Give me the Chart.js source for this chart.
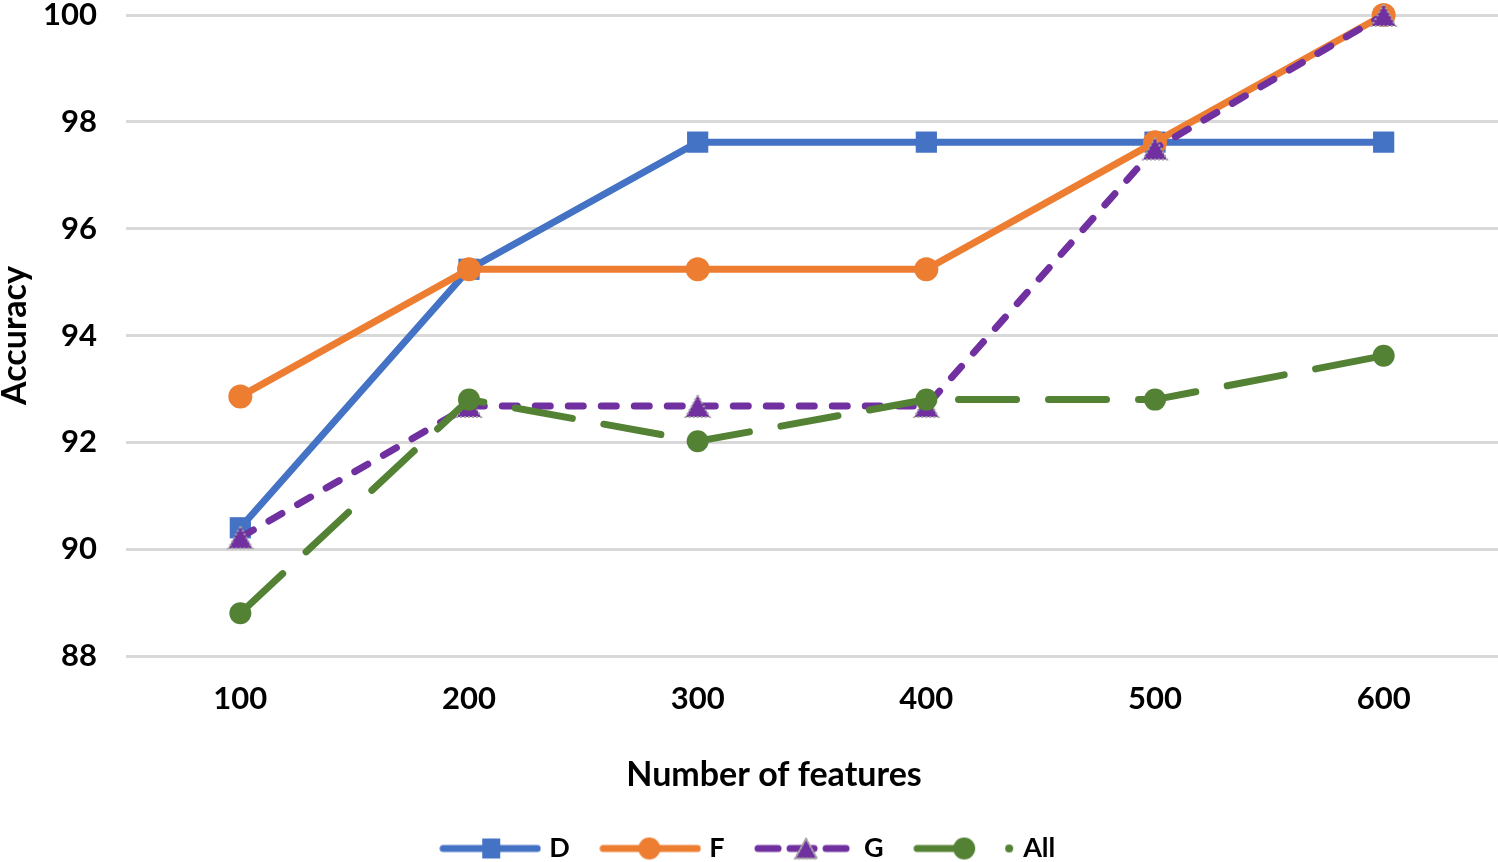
<!DOCTYPE html>
<html>
<head>
<meta charset="utf-8">
<script src="https://cdn.jsdelivr.net/npm/chart.js@4.4.1/dist/chart.umd.min.js"></script>
<style>
  html, body { margin: 0; padding: 0; background: #fff; overflow: hidden; }
  #wrap { width: 1498px; height: 872px; position: relative; }
</style>
</head>
<body>
<div id="wrap"><canvas id="c"></canvas></div>
<script>
const categories = ['100', '200', '300', '400', '500', '600'];
const seriesD = [90.4, 95.24, 97.62, 97.62, 97.62, 97.62];
const seriesF = [92.86, 95.24, 95.24, 95.24, 97.62, 100];
const seriesG = [90.22, 92.68, 92.68, 92.68, 97.5, 100];
const seriesAll = [88.8, 92.8, 92.02, 92.8, 92.8, 93.62];
const seriesNames = ['D', 'F', 'G', 'All'];
const yTicks = [88, 90, 92, 94, 96, 98, 100];

const BLUE = '#4472C4', ORANGE = '#ED7D31', PURPLE = '#7030A0', GREEN = '#548235';

function mk(w, h) { const c = document.createElement('canvas'); c.width = w; c.height = h; return c; }

function drawTri(ctx, cx, cy, w, h) {
  ctx.save();
  ctx.beginPath();
  ctx.moveTo(cx, cy - h / 2);
  ctx.lineTo(cx + w / 2, cy + h / 2);
  ctx.lineTo(cx - w / 2, cy + h / 2);
  ctx.closePath();
  ctx.fillStyle = PURPLE;
  ctx.fill();
  ctx.setLineDash([2, 2]);
  ctx.lineWidth = 2;
  ctx.strokeStyle = '#a6a6a6';
  ctx.stroke();
  ctx.restore();
}

const triImg = (() => { const c = mk(30, 28); drawTri(c.getContext('2d'), 15, 14, 24, 22); return c; })();

function legendSym(kind) {
  const c = mk(102, 30); const ctx = c.getContext('2d');
  ctx.lineCap = 'round'; ctx.lineWidth = 7;
  const y = 15;
  if (kind === 'D') {
    ctx.strokeStyle = BLUE; ctx.beginPath(); ctx.moveTo(4, y); ctx.lineTo(98, y); ctx.stroke();
    ctx.fillStyle = BLUE; ctx.fillRect(52 - 9, y - 10, 18, 20);
  } else if (kind === 'F') {
    ctx.strokeStyle = ORANGE; ctx.beginPath(); ctx.moveTo(4, y); ctx.lineTo(98, y); ctx.stroke();
    ctx.fillStyle = ORANGE; ctx.beginPath(); ctx.arc(50, y, 11, 0, Math.PI * 2); ctx.fill();
  } else if (kind === 'G') {
    ctx.strokeStyle = PURPLE;
    [[4, 24], [36, 60], [72, 92]].forEach(([a, b]) => { ctx.beginPath(); ctx.moveTo(a, y); ctx.lineTo(b, y); ctx.stroke(); });
    drawTri(ctx, 52, y, 22, 20);
  } else {
    ctx.strokeStyle = GREEN; ctx.beginPath(); ctx.moveTo(4, y); ctx.lineTo(58, y); ctx.stroke();
    ctx.fillStyle = GREEN; ctx.beginPath(); ctx.arc(51, y, 11, 0, Math.PI * 2); ctx.fill();
    ctx.beginPath(); ctx.arc(96, y, 4, 0, Math.PI * 2); ctx.fill();
  }
  return c;
}
const legendImgs = seriesNames.map(legendSym);

const layoutTweaks = {
  id: 'layoutTweaks',
  afterLayout(chart) {
    if (chart.legend) { chart.legend.left += 1; chart.legend.right += 1; }
    const s = chart.scales.x;
    if (s && !s._titlePatched) {
      const orig = s.drawTitle.bind(s);
      s.drawTitle = function () {
        const ctx = this.ctx; ctx.save(); ctx.translate(-38, 0); orig(); ctx.restore();
      };
      s._titlePatched = true;
    }
  }
};

Chart.defaults.font.family = 'Lato, "Open Sans", sans-serif';
Chart.defaults.font.weight = 'bold';
Chart.defaults.font.size = 31;
Chart.defaults.color = '#000';

new Chart(document.getElementById('c'), {
  type: 'line',
  plugins: [layoutTweaks],
  data: {
    labels: categories,
    datasets: [
      { label: seriesNames[0], data: seriesD, borderColor: BLUE, backgroundColor: BLUE, borderWidth: 7,
        pointStyle: 'rect', pointRadius: 15, pointHoverRadius: 15, pointBorderWidth: 0, order: 4, clip: false },
      { label: seriesNames[1], data: seriesF, borderColor: ORANGE, backgroundColor: ORANGE, borderWidth: 7,
        pointStyle: 'circle', pointRadius: 12, pointHoverRadius: 12, pointBorderWidth: 0, order: 3, clip: false },
      { label: seriesNames[2], data: seriesG, borderColor: PURPLE, backgroundColor: PURPLE, borderWidth: 7,
        borderDash: [15, 18], borderCapStyle: 'round',
        pointStyle: triImg, pointRadius: 14, pointHoverRadius: 14, pointBorderWidth: 0, order: 2, clip: false },
      { label: seriesNames[3], data: seriesAll, borderColor: GREEN, backgroundColor: GREEN, borderWidth: 7,
        borderDash: [58, 32], borderCapStyle: 'round',
        pointStyle: 'circle', pointRadius: 11, pointHoverRadius: 11, pointBorderWidth: 0, order: 1, clip: false }
    ]
  },
  options: {
    responsive: true,
    maintainAspectRatio: false,
    animation: false,
    layout: { padding: 0, autoPadding: false },
    plugins: {
      tooltip: { enabled: false },
      legend: {
        position: 'bottom',
        labels: {
          usePointStyle: true,
          pointStyleWidth: 91,
          padding: 35,
          font: { size: 27, weight: 'bold' },
          color: '#000',
          generateLabels: (chart) => chart.data.datasets.map((ds, i) => ({
            text: ds.label,
            pointStyle: legendImgs[i],
            datasetIndex: i,
            fillStyle: ds.borderColor,
            strokeStyle: ds.borderColor,
            lineWidth: 0,
            hidden: !chart.isDatasetVisible(i),
            fontColor: '#000'
          }))
        }
      }
    },
    scales: {
      x: {
        offset: true,
        grid: { display: false, drawTicks: false },
        border: { display: false },
        ticks: { padding: 27, font: { size: 31, weight: 'bold', lineHeight: 1 } },
        title: { display: true, text: 'Number of features', font: { size: 34, weight: 'bold', lineHeight: 1 },
                 padding: { top: 0, bottom: 8 } },
        afterFit: (s) => { s.height = 144; s.paddingLeft = 0; s.paddingRight = 0; }
      },
      y: {
        min: 88, max: 100,
        afterBuildTicks: (s) => { s.ticks = yTicks.map(v => ({ value: v })); },
        grid: { color: '#d9d9d9', lineWidth: 3, drawTicks: false },
        border: { display: false },
        ticks: { padding: 29, font: { size: 31, weight: 'bold', lineHeight: 1 } },
        title: { display: true, text: 'Accuracy', font: { size: 34, weight: 'bold', lineHeight: 0.9 },
                 padding: { top: 0, bottom: 0 } },
        afterFit: (s) => { s.width = 126; s.paddingTop = 15; s.paddingBottom = 0; }
      }
    }
  }
});
</script>
</body>
</html>
